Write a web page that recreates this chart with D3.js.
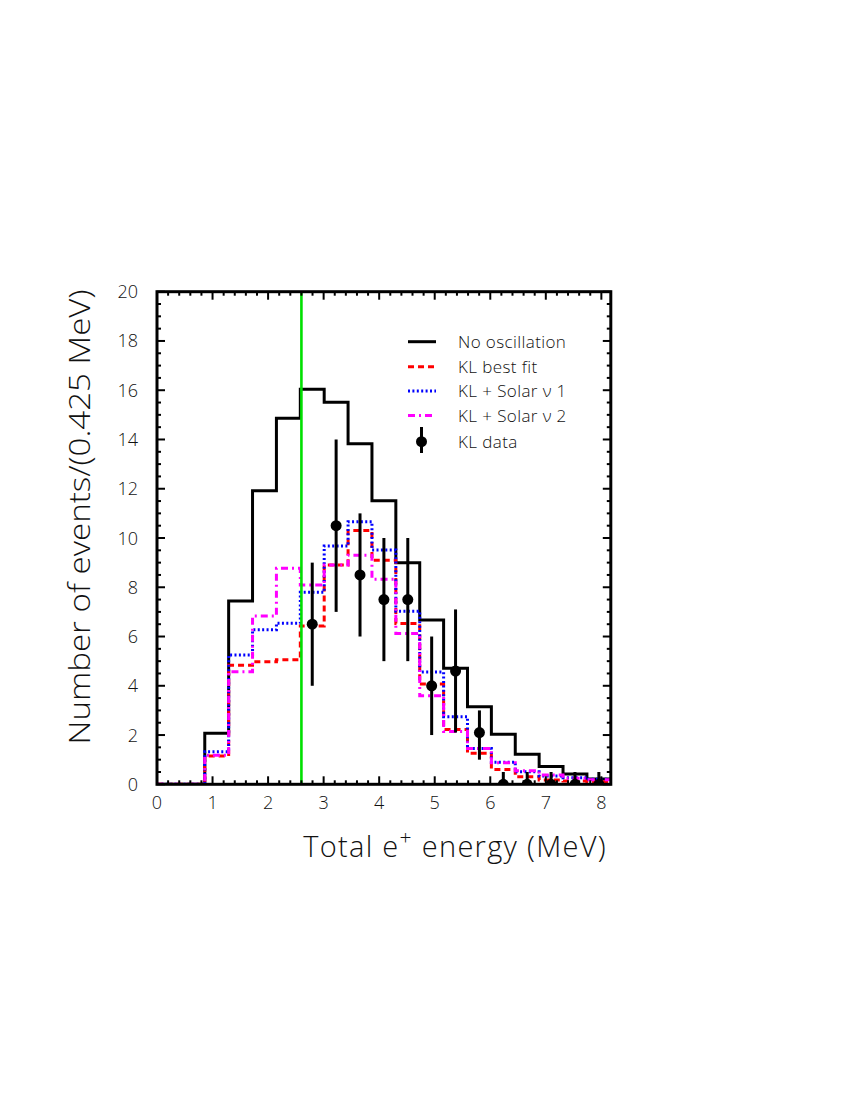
<!DOCTYPE html>
<html>
<head>
<meta charset="utf-8">
<script src="https://cdn.jsdelivr.net/npm/d3@7"></script>
<style>
  body { margin: 0; background: #fff; }
  text { font-family: "Open Sans", "DejaVu Sans", sans-serif; font-weight: 300; fill: #111; }
</style>
</head>
<body>
<svg id="chart" width="850" height="1100"></svg>
<script>
// ---- data ----
const binWidth = 0.43;
const nBins = 19;
const noOscillation = [0, 0, 2.07, 7.44, 11.92, 14.86, 16.04, 15.51, 13.83, 11.51, 9.0, 6.67, 4.71, 3.15, 2.03, 1.22, 0.72, 0.42, 0.22];
const klBestFit     = [0, 0, 1.15, 4.83, 4.98, 5.06, 6.43, 8.9, 10.3, 9.1, 6.53, 4.07, 2.23, 1.26, 0.6, 0.31, 0.17, 0.13, 0.1];
const klSolar1      = [0, 0, 1.32, 5.25, 6.27, 6.54, 7.8, 9.68, 10.66, 9.51, 7.03, 4.56, 2.74, 1.45, 0.9, 0.51, 0.34, 0.27, 0.2];
const klSolar2      = [0, 0, 1.18, 4.57, 6.83, 8.77, 8.09, 8.9, 9.3, 8.33, 6.12, 3.6, 2.14, 1.45, 0.88, 0.55, 0.38, 0.25, 0.18];
const dataBins  = [6, 7, 8, 9, 10, 11, 12, 13, 14, 15, 16, 17, 18];
const dataValue = [6.5, 10.5, 8.5, 7.5, 7.5, 4.0, 4.6, 2.1, 0, 0, 0, 0, 0];
const dataLow   = [4.0, 7.0, 6.0, 5.0, 5.0, 2.0, 2.1, 1.0, 0, 0, 0, 0, 0];
const dataHigh  = [9.0, 14.0, 11.0, 10.0, 10.0, 6.0, 7.1, 3.0, 0.5, 0.5, 0.5, 0.5, 0.5];
const thresholdEnergy = 2.6;
const xTicks = [0, 1, 2, 3, 4, 5, 6, 7, 8];
const yTicks = [0, 2, 4, 6, 8, 10, 12, 14, 16, 18, 20];
const legendLabels = ["No oscillation", "KL best fit", "KL + Solar \u03bd 1", "KL + Solar \u03bd 2", "KL data"];

// ---- layout ----
const svg = d3.select("#chart");
const L = 157, R = 610.8, T = 291.7, B = 784.3;
const x = d3.scaleLinear().domain([0, binWidth * nBins]).range([L, R]);
const y = d3.scaleLinear().domain([0, 20]).range([B, T]);

svg.append("defs").append("clipPath").attr("id", "clip")
  .append("rect").attr("x", L).attr("y", T).attr("width", R - L).attr("height", B - T);

// ---- histograms ----
function stepPoints(vals) {
  const pts = vals.map((v, i) => [i * binWidth, v]);
  pts.push([nBins * binWidth, vals[vals.length - 1]]);
  return pts;
}
const line = d3.line().x(d => x(d[0])).y(d => y(d[1])).curve(d3.curveStepAfter);

const series = [
  { vals: noOscillation, color: "#000", dash: null },
  { vals: klBestFit, color: "#ff0000", dash: "6,4" },
  { vals: klSolar1, color: "#0000ff", dash: "2,2.4" },
  { vals: klSolar2, color: "#ff00ff", dash: "7,4,2,4" }
];
const g = svg.append("g").attr("clip-path", "url(#clip)");
series.forEach(s => {
  g.append("path").attr("d", line(stepPoints(s.vals)))
    .attr("fill", "none").attr("stroke", s.color).attr("stroke-width", 3)
    .attr("stroke-dasharray", s.dash);
});

// threshold line
g.append("line").attr("x1", x(thresholdEnergy)).attr("x2", x(thresholdEnergy))
  .attr("y1", y(0)).attr("y2", y(20)).attr("stroke", "#00e000").attr("stroke-width", 2.6);

// data points
dataBins.forEach((b, i) => {
  const cx = x((b + 0.5) * binWidth);
  g.append("line").attr("x1", cx).attr("x2", cx)
    .attr("y1", y(dataLow[i])).attr("y2", y(dataHigh[i]))
    .attr("stroke", "#000").attr("stroke-width", 3);
  g.append("circle").attr("cx", cx).attr("cy", y(dataValue[i])).attr("r", 5.5).attr("fill", "#000");
});

// ---- axes (ticks inward on all sides) ----
const axG = svg.append("g");
const xMinor = d3.range(0, 8.17, 0.2);
xMinor.forEach(v => {
  const major = Math.abs(v - Math.round(v)) < 1e-6;
  const len = major ? 8 : 4;
  const xx = x(v);
  axG.append("line").attr("x1", xx).attr("x2", xx).attr("y1", B).attr("y2", B - len).attr("stroke", "#000").attr("stroke-width", 2);
  axG.append("line").attr("x1", xx).attr("x2", xx).attr("y1", T).attr("y2", T + len).attr("stroke", "#000").attr("stroke-width", 2);
});
const yMinor = d3.range(0, 20.01, 0.5);
yMinor.forEach(v => {
  const major = Math.abs(v / 2 - Math.round(v / 2)) < 1e-6;
  const len = major ? 8 : 4;
  const yy = y(v);
  axG.append("line").attr("x1", L).attr("x2", L + len).attr("y1", yy).attr("y2", yy).attr("stroke", "#000").attr("stroke-width", 2);
  axG.append("line").attr("x1", R).attr("x2", R - len).attr("y1", yy).attr("y2", yy).attr("stroke", "#000").attr("stroke-width", 2);
});
axG.append("rect").attr("x", L).attr("y", T).attr("width", R - L).attr("height", B - T)
  .attr("fill", "none").attr("stroke", "#000").attr("stroke-width", 3);

xTicks.forEach(v => {
  axG.append("text").attr("x", x(v)).attr("y", 809).attr("text-anchor", "middle")
    .attr("font-size", 18).text(v);
});
yTicks.forEach(v => {
  axG.append("text").attr("x", 138).attr("y", y(v) + 6.5).attr("text-anchor", "end")
    .attr("font-size", 18).text(v);
});

// axis titles
svg.append("text").attr("transform", `translate(90,517) rotate(-90)`)
  .attr("text-anchor", "middle").attr("font-size", 29)
  .attr("textLength", 455).attr("lengthAdjust", "spacingAndGlyphs")
  .text("Number of events/(0.425 MeV)");

const xt = svg.append("text").attr("x", 607).attr("y", 857).attr("text-anchor", "end")
  .attr("font-size", 29).attr("letter-spacing", 1.3);
xt.append("tspan").text("Total e");
xt.append("tspan").attr("dy", -12).attr("font-size", 21).text("+");
xt.append("tspan").attr("dy", 12).text(" energy (MeV)");

// ---- legend ----
const lg = svg.append("g");
const rowY = [341.7, 366.7, 391, 415.5, 441.7];
series.forEach((s, i) => {
  lg.append("line").attr("x1", 408).attr("x2", 436).attr("y1", rowY[i]).attr("y2", rowY[i])
    .attr("stroke", s.color).attr("stroke-width", 3).attr("stroke-dasharray", s.dash);
});
lg.append("line").attr("x1", 421.5).attr("x2", 421.5).attr("y1", 427).attr("y2", 453)
  .attr("stroke", "#000").attr("stroke-width", 3);
lg.append("circle").attr("cx", 421.5).attr("cy", rowY[4]).attr("r", 5.5).attr("fill", "#000");
legendLabels.forEach((t, i) => {
  lg.append("text").attr("x", 458).attr("y", rowY[i] + 6).attr("font-size", 17).attr("letter-spacing", 0.4).text(t);
});
</script>
</body>
</html>
